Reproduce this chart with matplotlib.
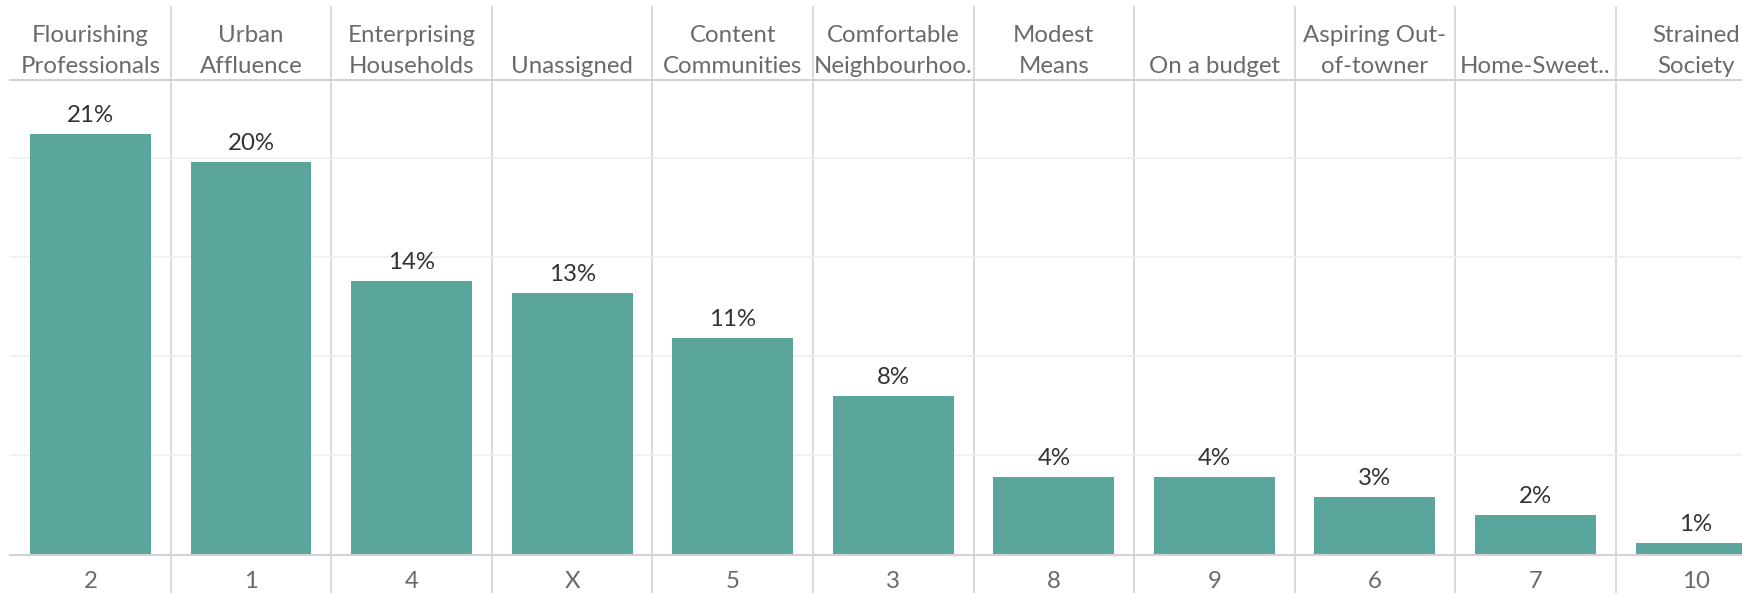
import matplotlib.pyplot as plt
from matplotlib import transforms

#-----------------------------------DATA---------------------------------------#

# Segment names shown in the header row
segments = ['Flourishing\nProfessionals', 'Urban\nAffluence', 'Enterprising\nHouseholds',
            'Unassigned', 'Content\nCommunities', 'Comfortable\nNeighbourhoo.',
            'Modest\nMeans', 'On a budget', 'Aspiring Out-\nof-towner',
            'Home-Sweet..', 'Strained\nSociety']

# Segment codes shown under the bars
codes = ['2', '1', '4', 'X', '5', '3', '8', '9', '6', '7', '10']

# Share of households (%)
share = [21.2, 19.8, 13.8, 13.2, 10.9, 8.0, 3.9, 3.9, 2.9, 2.0, 0.6]

#-----------------------------------STYLE--------------------------------------#

bar_color = '#5ba69c'
line_color = '#d3d3d3'
grid_color = '#efefef'
head_color = '#6a6a6a'
label_color = '#333333'

plt.rcParams['font.family'] = ['Lato', 'DejaVu Sans']
fs = 17.3

W, H = 1742, 593
fig = plt.figure(figsize=(W / 100, H / 100), dpi=100)

# plot area in pixels (left edge, header line, baseline); right side runs off the picture
left_px, top_px, base_px = 10.1, 79.5, 554.7
col_px = 160.57
ax = fig.add_axes([left_px / W, (H - base_px) / H, 1 - left_px / W, (base_px - top_px) / H])

x = list(range(len(share)))
ax.bar(x, share, width=0.753, color=bar_color, zorder=2)

ax.set_xlim(-0.5, (W - left_px) / col_px - 0.5)
ax.set_ylim(0, 23.93)

# light horizontal gridlines
ax.set_yticks([5, 10, 15, 20])
ax.yaxis.grid(True, color=grid_color, linewidth=1.2, zorder=0)
ax.set_xticks([])
ax.tick_params(axis='y', length=0, labelleft=False)

for s in ['left', 'right']:
    ax.spines[s].set_visible(False)
for s in ['top', 'bottom']:
    ax.spines[s].set_color(line_color)
    ax.spines[s].set_linewidth(1.5)

# vertical column separators, running through header and footer
trans = transforms.blended_transform_factory(ax.transData, ax.transAxes)
top_frac = (base_px - 7.3) / (base_px - top_px)
bot_frac = -(H - base_px) / (base_px - top_px)
for i in x:
    ax.plot([i + 0.5, i + 0.5], [bot_frac, top_frac], transform=trans,
            color=line_color, linewidth=1.2, clip_on=False, zorder=1)

# header labels, value labels and codes
for i, (name, val, code) in enumerate(zip(segments, share, codes)):
    ax.annotate(name, xy=(i, 1), xycoords=trans, xytext=(0, 1.6),
                textcoords='offset points', ha='center', va='bottom',
                fontsize=fs, color=head_color, linespacing=1.6)
    ax.annotate(f'{round(val)}%', xy=(i, val), xytext=(0, 8.6),
                textcoords='offset points', ha='center', va='baseline',
                fontsize=fs, color=label_color)
    ax.annotate(code, xy=(i, 0), xycoords=trans, xytext=(0, -24.2),
                textcoords='offset points', ha='center', va='baseline',
                fontsize=fs, color=head_color)

fig.savefig('out.png', dpi=100)
